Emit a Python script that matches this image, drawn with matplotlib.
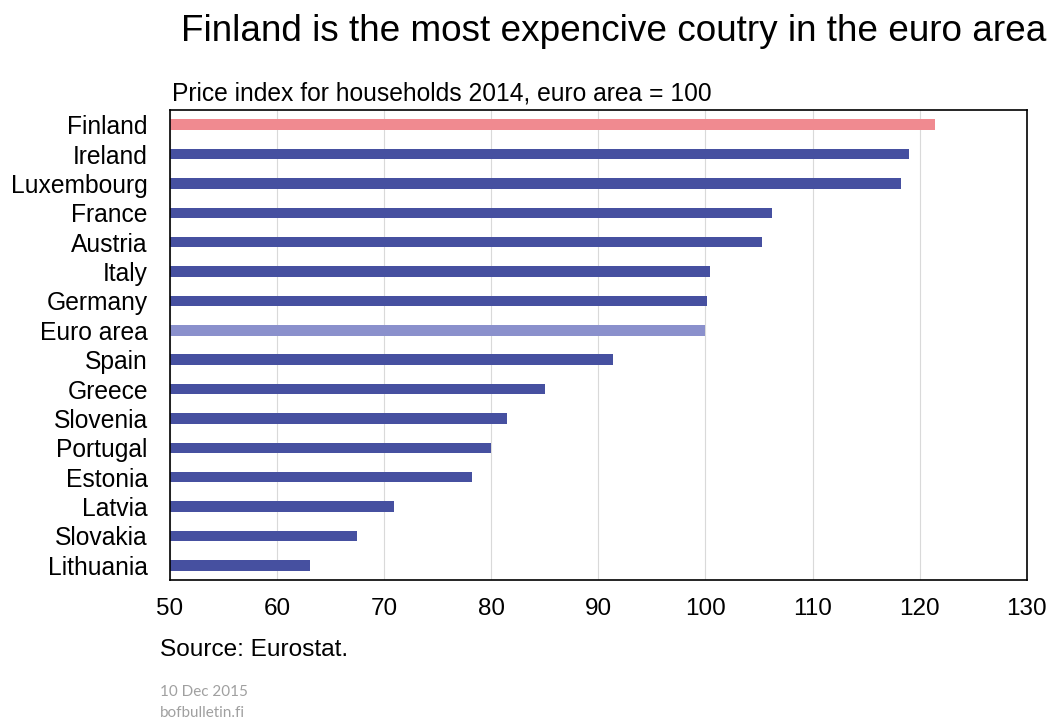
import matplotlib
matplotlib.use("Agg")
import matplotlib.pyplot as plt

countries = ["Finland", "Ireland", "Luxembourg", "France", "Austria", "Italy",
             "Germany", "Euro area", "Spain", "Greece", "Slovenia", "Portugal",
             "Estonia", "Latvia", "Slovakia", "Lithuania"]
price_index = [121.4, 119.0, 118.3, 106.2, 105.3, 100.4,
               100.1, 100.0, 91.4, 85.0, 81.5, 80.0,
               78.2, 70.9, 67.5, 63.1]
x_ticks = [50, 60, 70, 80, 90, 100, 110, 120, 130]

BLUE = "#4650a0"
PINK = "#f08a90"
LIGHT = "#8a90cc"

colors = []
for c in countries:
    if c == "Finland":
        colors.append(PINK)
    elif c == "Euro area":
        colors.append(LIGHT)
    else:
        colors.append(BLUE)

plt.rcParams["font.family"] = ["Liberation Sans", "DejaVu Sans"]

fig = plt.figure(figsize=(10.52, 7.22), dpi=100)
ax = fig.add_axes([0.1616, 0.1967, 0.8144, 0.6509])

ypos = list(range(len(countries)))
ax.barh(ypos, [v - 50 for v in price_index], left=50, height=0.36, color=colors)
ax.set_ylim(len(countries) - 0.5, -0.5)
ax.set_xlim(50, 130)
ax.set_xticks(x_ticks)
ax.set_xticklabels([str(t) for t in x_ticks], fontsize=17.5)
ax.set_yticks(ypos)
ax.set_yticklabels(countries, fontsize=17.7)
ax.tick_params(axis="y", length=0, pad=16)
ax.tick_params(axis="x", length=0, pad=13)
ax.xaxis.grid(True, color="#d9d9d9", linewidth=0.8)
ax.set_axisbelow(True)
for s in ax.spines.values():
    s.set_color("black")
    s.set_linewidth(1.2)

fig.text(0.583, 0.957, "Finland is the most expencive coutry in the euro area",
         fontsize=26.6, ha="center", va="center")
fig.text(0.1635, 0.871, "Price index for households 2014, euro area = 100",
         fontsize=17.7, ha="left", va="center")
fig.text(0.152, 0.1, "Source: Eurostat.", fontsize=17.6, ha="left", va="center")
fig.text(0.152, 0.041, "10 Dec 2015", fontsize=11, color="#a0a0a0", ha="left",
         va="center", family=["Lato", "DejaVu Sans"])
fig.text(0.152, 0.013, "bofbulletin.fi", fontsize=11, color="#a0a0a0", ha="left",
         va="center", family=["Lato", "DejaVu Sans"])

fig.savefig("out.png", dpi=100)
